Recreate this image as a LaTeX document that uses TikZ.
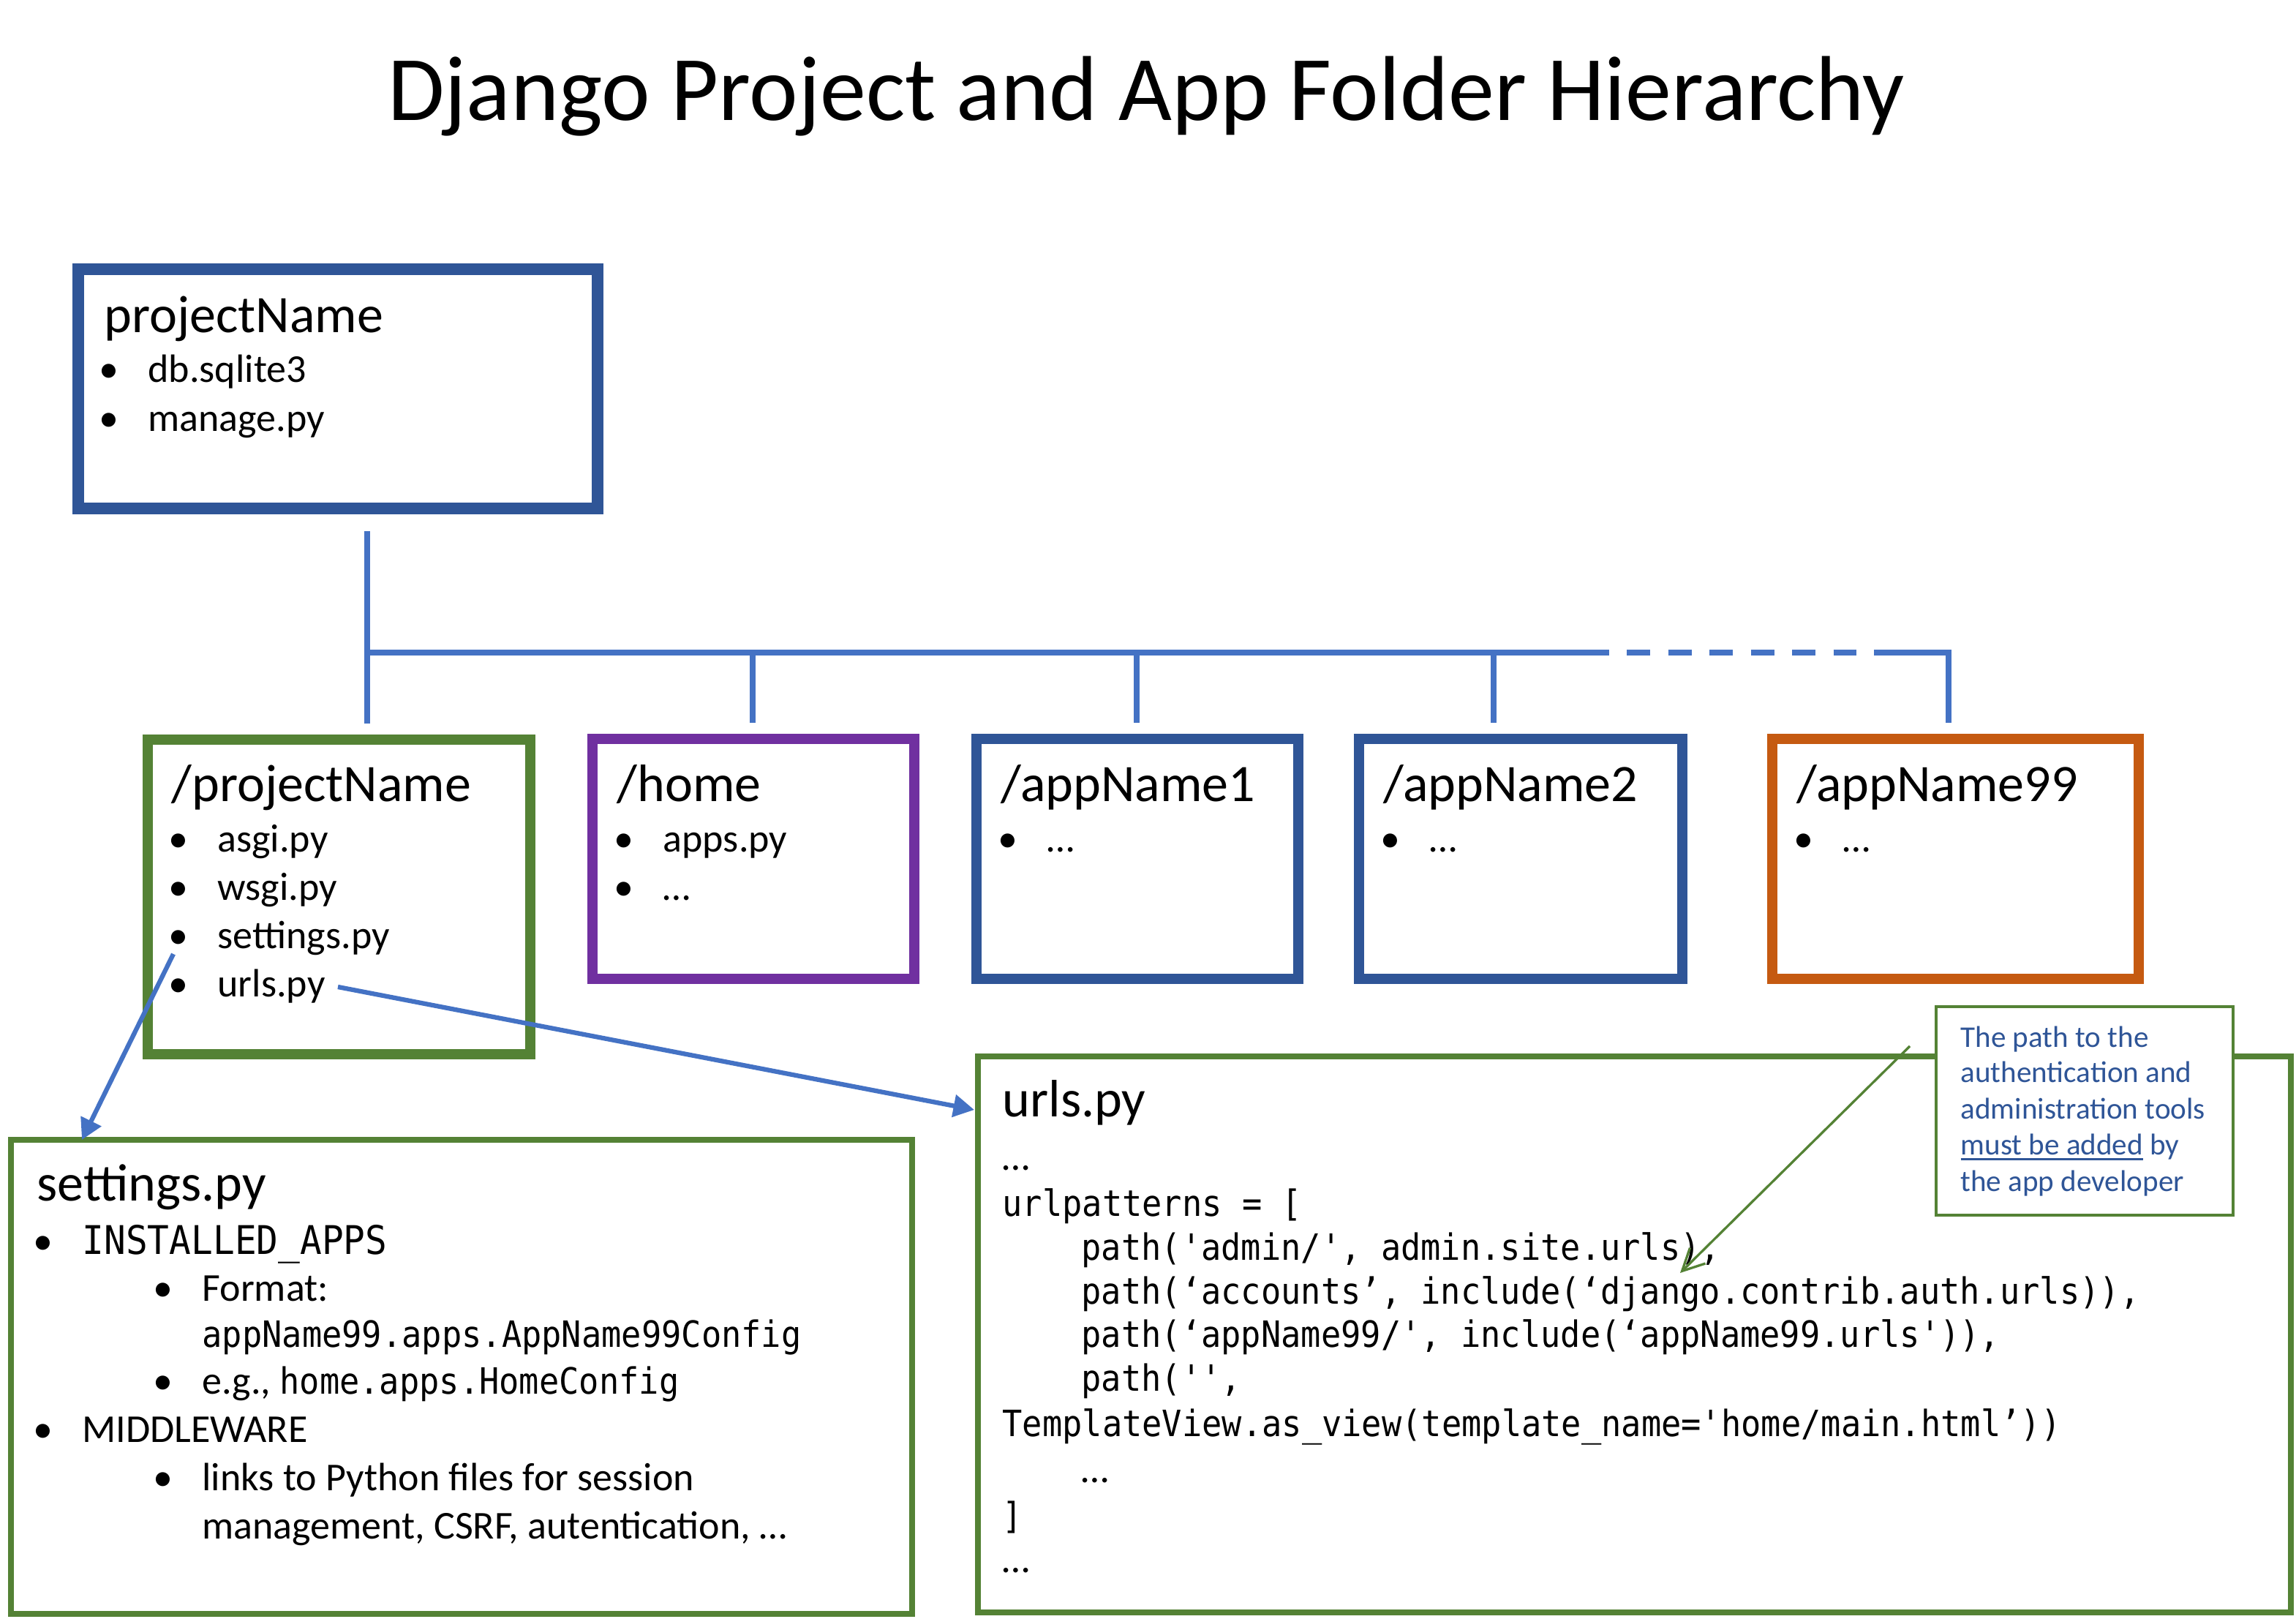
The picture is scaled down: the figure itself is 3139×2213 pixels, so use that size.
\documentclass[tikz,border=0pt]{standalone}
\usepackage{fontspec}
\setmainfont{Carlito}
\setmonofont[FakeStretch=0.916]{DejaVu Sans Mono}
\usetikzlibrary{arrows.meta,fit}
\definecolor{dblue}{HTML}{2F5597}
\definecolor{cblue}{HTML}{4472C4}
\definecolor{pgreen}{HTML}{548235}
\definecolor{ppurple}{HTML}{7030A0}
\definecolor{porange}{HTML}{C55A11}
\newcommand\bul{\llap{\makebox[0pt]{\rmfamily •}\hspace{18pt}}}
\newcommand\ulc[1]{\setbox0\hbox{#1}\rlap{\rule[-2.8pt]{\wd0}{1pt}}\box0\relax}
\begin{document}
\begin{tikzpicture}[x=0.33333pt, y=-0.33333pt,
  box/.style={draw, inner sep=0pt, line join=miter},
  txt/.style={anchor=base west, inner sep=0pt},
  hdr/.style={txt, font=\fontsize{24}{29}\selectfont},
  itm/.style={txt, font=\fontsize{18}{22}\selectfont},
  code/.style={txt, font=\ttfamily\fontsize{16.5}{20}\selectfont},
  tree/.style={draw=cblue, line width=2.4pt, line cap=butt, line join=miter},
  link/.style={draw=cblue, line width=2.1pt, -{Triangle[length=9.5pt,width=10pt]}},
  notetxt/.style={txt, font=\fontsize{13.7}{16}\selectfont, text=dblue}]
\useasboundingbox (0,0) rectangle (3139,2213);

% title
\node[anchor=base, inner sep=0pt, font=\fontsize{42}{50}\selectfont] (title) at (1567,164) {Django Project and App Folder Hierarchy};

% boxes
\node[box, draw=dblue, line width=5.3pt, fit={(107,368) (817,695)}] (root) {};
\node[box, draw=pgreen, line width=4.8pt, fit={(202,1011) (725,1441)}] (proj) {};
\node[box, draw=ppurple, line width=4.8pt, fit={(810,1010) (1250,1338)}] (home) {};
\node[box, draw=dblue, line width=4.8pt, fit={(1335,1010) (1775,1338)}] (app1) {};
\node[box, draw=dblue, line width=4.8pt, fit={(1858,1010) (2300,1338)}] (app2) {};
\node[box, draw=porange, line width=4.8pt, fit={(2423,1010) (2924,1338)}] (app99) {};
\node[box, draw=pgreen, line width=2.4pt, fit={(15,1558) (1247,2206)}] (settings) {};
\node[box, draw=pgreen, line width=2.6pt, fit={(1337,1444) (3132,2204)}] (urls) {};
\node[box, draw=pgreen, line width=1.6pt, fill=white, fit={(2647,1376) (3053,1661)}] (note) {};

% root box text
\node[hdr] (rootH) at (142,454) {projectName};
\node[itm] (rootI1) at (202,522) {\bul db.sqlite3};
\node[itm] (rootI2) at (202,589) {\bul manage.py};

% /projectName
\node[hdr] (projH) at (234,1095) {/projectName};
\node[itm] (projI1) at (297,1164) {\bul asgi.py};
\node[itm] (projI2) at (297,1230) {\bul wsgi.py};
\node[itm] (projI3) at (297,1296) {\bul settings.py};
\node[itm] (projI4) at (297,1362) {\bul urls.py};

% /home
\node[hdr] (homeH) at (843,1095) {/home};
\node[itm] (homeI1) at (906,1164) {\bul apps.py};
\node[itm] (homeI2) at (906,1230) {\bul …};

% apps
\node[hdr] (app1H) at (1368,1095) {/appName1};
\node[itm] (app1I1) at (1431,1164) {\bul …};
\node[hdr] (app2H) at (1891,1095) {/appName2};
\node[itm] (app2I1) at (1954,1164) {\bul …};
\node[hdr] (app99H) at (2456,1095) {/appName99};
\node[itm] (app99I1) at (2519,1164) {\bul …};

% settings.py
\node[hdr] (setH) at (50,1641) {settings.py};
\node[itm] (setI1) at (112,1714) {\bul{\ttfamily INSTALLED\_APPS}};
\node[itm] (setI2) at (276,1778) {\bul Format:};
\node[code] (setI3) at (276,1841) {appName99.apps.AppName99Config};
\node[itm] (setI4) at (276,1905) {\bul e.g., {\ttfamily\fontsize{16.5}{20}\selectfont home.apps.HomeConfig}};
\node[itm] (setI5) at (112,1971) {\bul MIDDLEWARE};
\node[itm] (setI6) at (276,2037) {\bul links to Python files for session};
\node[itm] (setI7) at (276,2103) {management, CSRF, autentication, …};

% urls.py
\node[hdr] (urlH) at (1370,1526) {urls.py};
\node[itm] (urlL1) at (1370,1599) {…};
\node[code] (urlL2) at (1370,1662) {urlpatterns = [};
\node[code] (urlL3) at (1478,1722) {path('admin/', admin.site.urls),};
\node[code] (urlL4) at (1478,1782) {path(‘accounts’, include(‘django.contrib.auth.urls)),};
\node[code] (urlL5) at (1478,1841) {path(‘appName99/', include(‘appName99.urls')),};
\node[code] (urlL6) at (1478,1901) {path('',};
\node[code] (urlL7) at (1370,1963) {TemplateView.as\_view(template\_name='home/main.html’))};
\node[itm] (urlL8) at (1478,2026) {…};
\node[code] (urlL9) at (1370,2089) {]};
\node[itm] (urlL10) at (1370,2149) {…};

% note text
\node[notetxt] (n1) at (2680,1431) {The path to the};
\node[notetxt] (n2) at (2680,1479) {authentication and};
\node[notetxt] (n3) at (2680,1529) {administration tools};
\node[notetxt] (n4) at (2680,1578) {\ulc{must be added} by};
\node[notetxt] (n5) at (2680,1628) {the app developer};

% tree connectors
\coordinate (trunkTop) at (502,726);
\coordinate (trunkBot) at (502,989);
\coordinate (busA) at (499,892);
\coordinate (busB) at (2200,892);
\coordinate (busC) at (2224,892);
\coordinate (busD) at (2538,892);
\coordinate (busE) at (2562,892);
\coordinate (busF) at (2664,892);
\coordinate (dropF) at (2664,988);
\coordinate (homeBus) at (1029,892);
\coordinate (homeDrop) at (1029,988);
\coordinate (app1Bus) at (1554,892);
\coordinate (app1Drop) at (1554,988);
\coordinate (app2Bus) at (2042,892);
\coordinate (app2Drop) at (2042,988);
\draw[tree] (trunkTop) -- (trunkBot);
\draw[tree] (busA) -- (busB);
\draw[tree, dash pattern=on 10.67pt off 8.17pt] (busC) -- (busD);
\draw[tree] (busE) -- (busF) -- (dropF);
\draw[tree] (homeBus) -- (homeDrop);
\draw[tree] (app1Bus) -- (app1Drop);
\draw[tree] (app2Bus) -- (app2Drop);

% arrows
\coordinate (setFrom) at (237,1304);
\coordinate (setTo) at (112,1558);
\coordinate (urlFrom) at (462,1349);
\coordinate (urlTo) at (1332,1517);
\draw[link] (setFrom) -- (setTo);
\draw[link] (urlFrom) -- (urlTo);
\coordinate (noteFrom) at (2611,1430);
\coordinate (noteTo) at (2297,1740);
\draw[draw=pgreen, line width=1.1pt, -{Straight Barb[length=10pt,width=10pt]}] (noteFrom) -- (noteTo);
\end{tikzpicture}
\end{document}
